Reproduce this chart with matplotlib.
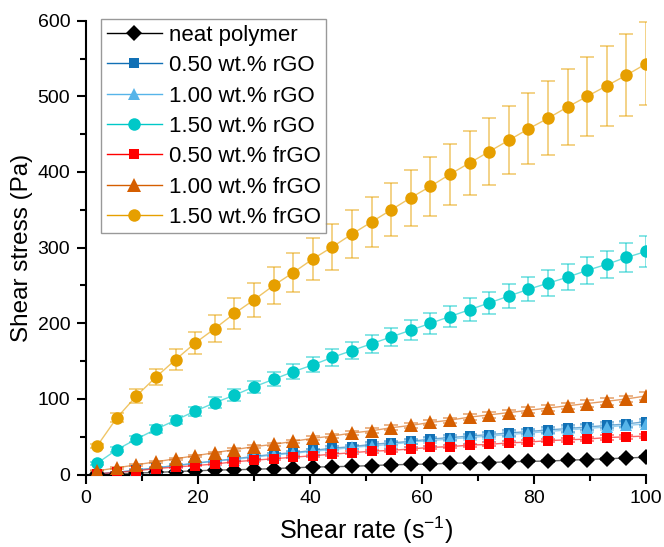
import matplotlib
matplotlib.use("Agg")
import matplotlib.pyplot as plt
from matplotlib.ticker import MultipleLocator
from matplotlib.lines import Line2D

plt.rcParams['font.family'] = ['Liberation Sans', 'DejaVu Sans']
plt.rcParams['mathtext.default'] = 'regular'

shear_rate = [2.0, 5.5, 9.0, 12.5, 16.0, 19.5, 23.0, 26.5, 30.0, 33.5, 37.0, 40.5,
              44.0, 47.5, 51.0, 54.5, 58.0, 61.5, 65.0, 68.5, 72.0, 75.5, 79.0,
              82.5, 86.0, 89.5, 93.0, 96.5, 100.0]

neat = [0.5, 1, 2, 3, 4, 5, 6, 6.5, 7, 8, 9, 10, 10.5, 11, 12, 13, 13.5, 14, 15,
        15.5, 16, 17, 17.5, 18, 19, 20, 21, 22, 23]
rgo_050 = [1, 3, 6, 9, 12, 15, 18, 21, 24, 27, 29, 32, 35, 37, 40, 42, 44, 47, 49,
           51, 53, 55, 57, 59, 61, 63, 65, 67, 70]
rgo_100 = [1, 3, 6, 9, 12, 15, 18, 20, 23, 26, 28, 31, 33, 36, 38, 40, 43, 45, 47,
           49, 51, 53, 55, 57, 59, 61, 63, 65, 67]
rgo_150 = [15, 33, 47, 60, 72, 84, 95, 105, 116, 126, 136, 145, 155, 164, 173, 182,
           191, 200, 209, 218, 227, 236, 245, 253, 261, 270, 278, 287, 295]
frgo_050 = [1, 3, 5, 8, 10, 12, 14, 17, 19, 21, 23, 25, 27, 29, 31, 32, 34, 36, 37,
            39, 40, 42, 43, 45, 46, 47, 49, 50, 51]
frgo_100 = [5, 9, 13, 17, 21, 25, 29, 33, 37, 40, 44, 48, 51, 55, 58, 62, 65, 69, 72,
            76, 79, 82, 85, 88, 91, 94, 97, 100, 104]
frgo_150 = [38, 75, 104, 129, 152, 174, 193, 213, 231, 250, 267, 285, 301, 318, 334,
            350, 366, 381, 397, 412, 427, 442, 457, 471, 486, 500, 514, 528, 543]

neat_err = [0.3, 0.5, 0.5, 0.5, 0.5, 0.5, 0.6, 0.6, 0.7, 0.7, 0.8, 0.8, 0.8, 0.9, 0.9,
            1, 1, 1, 1, 1.1, 1.1, 1.1, 1.2, 1.2, 1.2, 1.3, 1.3, 1.3, 1.4]
rgo_050_err = [0.5, 1, 1, 1, 1.5, 1.5, 1.5, 2, 2, 2, 2, 2.5, 2.5, 2.5, 2.5, 3, 3, 3, 3,
               3, 3.5, 3.5, 3.5, 3.5, 4, 4, 4, 4, 4]
rgo_100_err = [0.5, 1, 1, 1, 1.5, 1.5, 1.5, 2, 2, 2, 2, 2.5, 2.5, 2.5, 2.5, 3, 3, 3, 3,
               3, 3.5, 3.5, 3.5, 3.5, 4, 4, 4, 4, 4]
rgo_150_err = [2, 3, 4, 5, 5, 6, 7, 8, 8, 9, 10, 10, 11, 11, 12, 12, 13, 14, 14, 15,
               15, 16, 16, 17, 17, 18, 18, 19, 20]
frgo_050_err = [0.5, 0.5, 0.5, 1, 1, 1, 1, 1, 1.5, 1.5, 1.5, 1.5, 2, 2, 2, 2, 2, 2, 2,
                2, 2.5, 2.5, 2.5, 2.5, 2.5, 2.5, 3, 3, 3]
frgo_100_err = [0.5, 1, 1, 1, 1.5, 1.5, 1.5, 2, 2, 2, 2, 2.5, 2.5, 2.5, 3, 3, 3, 3, 3.5,
                3.5, 3.5, 4, 4, 4, 4, 4.5, 4.5, 4.5, 5]
frgo_150_err = [3, 6, 9, 11, 14, 15, 18, 20, 22, 24, 26, 28, 30, 32, 33, 35, 37, 39, 40,
                42, 44, 45, 47, 49, 50, 52, 53, 54, 55]

labels = ['neat polymer', '0.50 wt.% rGO', '1.00 wt.% rGO', '1.50 wt.% rGO',
          '0.50 wt.% frGO', '1.00 wt.% frGO', '1.50 wt.% frGO']
series = [neat, rgo_050, rgo_100, rgo_150, frgo_050, frgo_100, frgo_150]
errors = [neat_err, rgo_050_err, rgo_100_err, rgo_150_err, frgo_050_err, frgo_100_err, frgo_150_err]
colors = ['#000000', '#1170b5', '#56b4e9', '#00c8c8', '#ff0000', '#d55e00', '#e69f00']
markers = ['D', 's', '^', 'o', 's', '^', 'o']
msizes = [8, 7.5, 9, 9, 7.5, 9.5, 9]

fig = plt.figure(figsize=(6.64, 5.47), dpi=100)
ax = fig.add_axes([0.1295, 0.1323, 0.8434, 0.8299])

for y, e, c, m, ms in zip(series, errors, colors, markers, msizes):
    ax.errorbar(shear_rate, y, yerr=e, fmt='none', ecolor=c, alpha=0.55,
                elinewidth=1.2, capsize=5, capthick=1.2, zorder=2)
    ax.plot(shear_rate, y, '-', color=c, lw=1.0, alpha=0.6, zorder=3)
    ax.plot(shear_rate, y, linestyle='none', marker=m, color=c, ms=ms,
            markeredgewidth=0, zorder=4)

handles = [Line2D([], [], color=c, lw=1.0, marker=m, ms=ms, markeredgewidth=0)
           for c, m, ms in zip(colors, markers, msizes)]
leg = ax.legend(handles, labels, loc='upper left', bbox_to_anchor=(0.027, 1.003),
                fontsize=16, frameon=True, fancybox=False, handlelength=2.5,
                handletextpad=0.3, labelspacing=0.42, borderpad=0.25,
                borderaxespad=0.0)
leg.get_frame().set_edgecolor('#808080')
leg.get_frame().set_linewidth(1.0)

ax.set_xlim(0, 100)
ax.set_ylim(0, 600)
ax.xaxis.set_major_locator(MultipleLocator(20))
ax.xaxis.set_minor_locator(MultipleLocator(10))
ax.yaxis.set_major_locator(MultipleLocator(100))
ax.yaxis.set_minor_locator(MultipleLocator(50))
ax.spines['top'].set_visible(False)
ax.spines['right'].set_visible(False)
for s in ('left', 'bottom'):
    ax.spines[s].set_linewidth(1.5)
ax.tick_params(which='major', direction='out', length=6.3, width=1.5, labelsize=14, pad=5)
ax.tick_params(which='minor', direction='out', length=4, width=1.5)
ax.set_xlabel('Shear rate (s$^{-1}$)', fontsize=18, labelpad=5)
ax.set_ylabel('Shear stress (Pa)', fontsize=17.5, labelpad=3)

fig.savefig('out.png', dpi=100)
